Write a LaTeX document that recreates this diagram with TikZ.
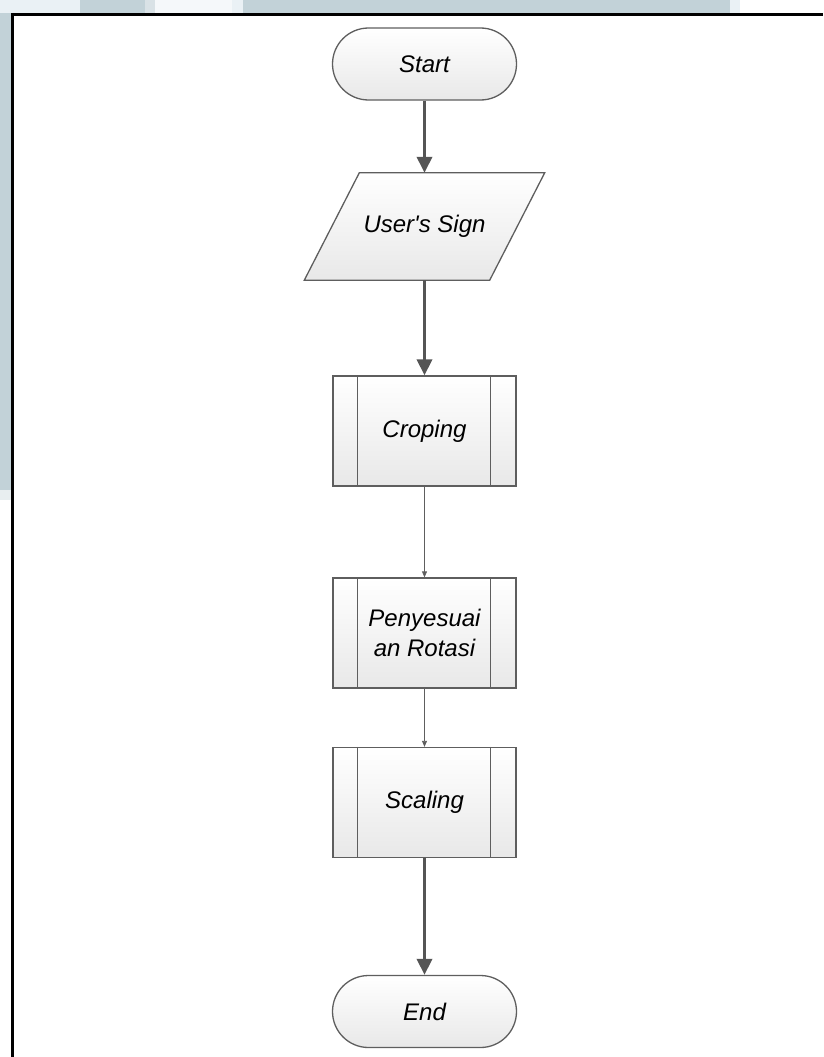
\documentclass[tikz,border=0pt]{standalone}
\usepackage{fontspec}
\setmainfont{Liberation Sans}
\newfontfamily\nomap{Liberation Sans}
\usetikzlibrary{arrows.meta,calc}
\definecolor{edge}{HTML}{5E5E5E}
\definecolor{arr}{HTML}{555555}
\definecolor{bandA}{HTML}{C2D2D8}
\definecolor{bandB}{HTML}{D9E2E6}
\definecolor{bandC}{HTML}{EAF1F5}
\begin{document}
\begin{tikzpicture}[x=1pt,y=-1pt,
  shapefill/.style={top color=white,bottom color=black!9},
  lbl/.style={font=\fontsize{24}{30}\selectfont\itshape,align=center,text=black},
  term/.style={draw=edge,line width=1.3pt,shapefill,rounded corners=36pt,minimum width=184pt,minimum height=72pt,lbl},
  proc/.style={draw=edge,line width=1.3pt,shapefill,minimum width=183pt,minimum height=110pt,lbl},
  io/.style={minimum width=185pt,minimum height=107pt,lbl},
  thick arrow/.style={draw=arr,line width=3.6pt,-{Triangle[width=15pt,length=16pt]}},
  thin arrow/.style={draw=edge,line width=0.8pt,-{Triangle[width=5pt,length=6pt]}}
]
\useasboundingbox (0,0) rectangle (823,1057);
% background strips
\fill[bandC] (0,0) rectangle (80,13);
\fill[bandA] (80,0) rectangle (145,13);
\fill[bandB] (145,0) rectangle (155,13);
\fill[bandC!50!white] (155,0) rectangle (232,13);
\fill[bandC] (232,0) rectangle (243,13);
\fill[bandA] (243,0) rectangle (730,13);
\fill[bandC] (730,0) rectangle (740,13);
\fill[bandA] (0,13) rectangle (11,490);
\fill[bandB!60!white] (0,490) rectangle (11,500);
% frame
\draw[black,line width=2.6pt] (11,14.3) -- (823,14.3);
\draw[black,line width=2.6pt] (12.3,13) -- (12.3,1057);
% nodes
\node[term] (start) at (424.5,64) {Start};
\node[io] (sign) at (424.5,226.5) {};
\path[draw=edge,line width=1.3pt,shapefill]
  ($(sign.south west)+(-27.5,0)$) -- ($(sign.south east)+(-27.5,0)$)
  -- ($(sign.north east)+(27.5,0)$) -- ($(sign.north west)+(27.5,0)$) -- cycle;
\node[lbl] at (sign.center) {User{\nomap\itshape '}s Sign};
\node[proc] (crop) at (424.5,431) {Croping};
\node[proc] (rot) at (424.5,633) {Penyesuai\\an Rotasi};
\node[proc] (scale) at (424.5,802.5) {Scaling};
\node[term] (end) at (424.5,1011.5) {End};
% inner bars of predefined processes
\foreach \n in {crop,rot,scale}{
  \draw[edge,line width=1.3pt] ($(\n.north west)+(25,0)$) -- ($(\n.south west)+(25,0)$);
  \draw[edge,line width=1.3pt] ($(\n.north east)+(-26,0)$) -- ($(\n.south east)+(-26,0)$);
}
% connectors
\draw[thick arrow] (start.south) -- (sign.north);
\draw[thick arrow] (sign.south) -- (crop.north);
\draw[thin arrow] (crop.south) -- (rot.north);
\draw[thin arrow] (rot.south) -- (scale.north);
\draw[thick arrow] (scale.south) -- (end.north);
\end{tikzpicture}
\end{document}
